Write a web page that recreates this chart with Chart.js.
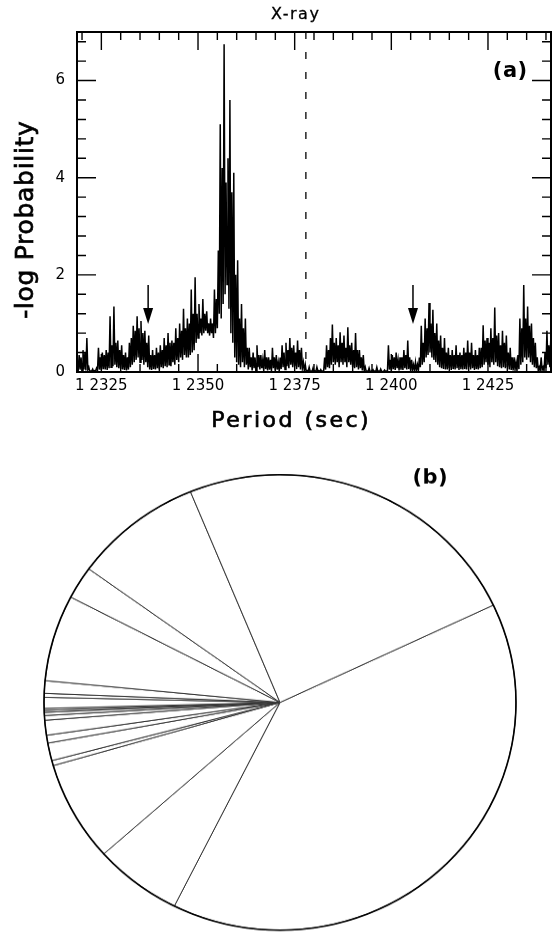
<!DOCTYPE html>
<html><head><meta charset="utf-8">
<script src="https://cdn.jsdelivr.net/npm/chart.js@4.4.1/dist/chart.umd.min.js"></script>
<style>
html,body{margin:0;padding:0;background:#fff;}
body{width:555px;height:932px;position:relative;overflow:hidden;}
#c1{position:absolute;left:0;top:0;}
#pieWrap{position:absolute;left:0;top:444.8px;width:555px;height:507px;transform-origin:0 0;transform:scaleY(0.965);}
#c2{position:absolute;left:0;top:0;}
</style></head><body>
<canvas id="c1" width="555" height="440"></canvas>
<div id="pieWrap"><canvas id="c2" width="555" height="507"></canvas></div>
<script>
// ---------- panel (a) data ----------
const periodStart = 12318.75;   // first sample (sec)
const periodStep = 0.5;         // spacing of the local maxima below (sec)
// local maxima of -log P, one every 0.5 s
const logProbPeaks = [
  0.25, 0.35, 0.3, 0.45, 0.4, 0.7, 0.1, 0.02, 0.06, 0.03,
  0.08, 0.5, 0.3, 0.4, 0.35, 0.45, 0.4, 1.15, 0.55, 1.35,
  0.6, 0.65, 0.45, 0.55, 0.35, 0.4, 0.3, 0.6, 0.7, 0.95,
  0.85, 1.15, 0.9, 1.05, 0.8, 0.85, 0.6, 0.75, 0.35, 0.45,
  0.35, 0.5, 0.4, 0.55, 0.45, 0.7, 0.55, 0.8, 0.6, 0.65,
  0.6, 0.9, 0.7, 1.0, 0.85, 1.3, 0.9, 1.1, 1.0, 1.7,
  1.2, 1.95, 1.2, 1.4, 1.1, 1.5, 1.2, 1.25, 1.0, 1.1,
  1.0, 1.7, 1.5, 2.5, 5.1, 4.2, 6.75, 3.9, 4.4, 5.6,
  3.7, 4.1, 2.0, 2.3, 1.1, 1.4, 0.9, 1.1, 0.5, 0.5,
  0.3, 0.4, 0.3, 0.55, 0.35, 0.35, 0.25, 0.45, 0.3, 0.3,
  0.25, 0.5, 0.3, 0.35, 0.2, 0.3, 0.55, 0.4, 0.6, 0.45,
  0.7, 0.5, 0.55, 0.4, 0.65, 0.45, 0.5, 0.2, 0.15, 0.03,
  0.1, 0.02, 0.08, 0.02, 0.1, 0.03, 0.05, 0.02, 0.3, 0.55,
  0.45, 0.7, 0.98, 0.6, 0.7, 0.55, 0.82, 0.6, 0.75, 0.5,
  0.92, 0.55, 0.6, 0.45, 0.8, 0.45, 0.45, 0.3, 0.35, 0.1,
  0.02, 0.08, 0.01, 0.05, 0.02, 0.1, 0.02, 0.06, 0.01, 0.04,
  0.02, 0.55, 0.25, 0.35, 0.3, 0.4, 0.25, 0.3, 0.3, 0.45,
  0.35, 0.65, 0.3, 0.25, 0.15, 0.2, 0.15, 0.3, 0.95, 0.6,
  1.1, 0.9, 1.42, 1.0, 1.28, 0.8, 1.0, 0.65, 0.75, 0.5,
  0.7, 0.4, 0.5, 0.35, 0.45, 0.35, 0.55, 0.35, 0.4, 0.35,
  0.5, 0.4, 0.65, 0.4, 0.6, 0.35, 0.45, 0.35, 0.5, 0.5,
  0.96, 0.65, 0.7, 0.6, 0.9, 0.7, 1.33, 0.75, 0.8, 0.55,
  0.85, 0.6, 0.75, 0.4, 0.5, 0.3, 0.3, 0.2, 0.35, 1.1,
  0.9, 1.79, 1.1, 1.35, 0.95, 1.0, 0.7, 0.6, 0.3, 0.1,
  0.3, 0.1, 0.4, 0.85, 0.55, 0.7, 0.5
];
// local minima between successive maxima (0.25 s after each maximum)
const logProbTroughs = [
  0.02, 0.05, 0.02, 0.05, 0.03, 0.05, 0.01, 0.02, 0.01, 0.02,
  0.03, 0.05, 0.04, 0.06, 0.05, 0.04, 0.08, 0.1, 0.12, 0.15,
  0.1, 0.08, 0.06, 0.05, 0.04, 0.03, 0.05, 0.1, 0.15, 0.2,
  0.25, 0.3, 0.2, 0.25, 0.15, 0.2, 0.1, 0.05, 0.04, 0.06,
  0.05, 0.08, 0.05, 0.1, 0.08, 0.12, 0.1, 0.15, 0.12, 0.2,
  0.15, 0.25, 0.2, 0.3, 0.25, 0.35, 0.3, 0.3, 0.35, 0.4,
  0.45, 0.6, 0.7, 0.8, 0.75, 0.8, 0.85, 0.8, 0.75, 0.8,
  0.7, 0.8, 0.9, 1.2, 1.1, 1.4, 1.6, 1.8, 1.3, 0.8,
  0.6, 0.3, 0.2, 0.15, 0.1, 0.2, 0.1, 0.15, 0.05, 0.1,
  0.03, 0.08, 0.02, 0.1, 0.05, 0.08, 0.02, 0.06, 0.03, 0.05,
  0.02, 0.08, 0.03, 0.05, 0.02, 0.06, 0.1, 0.05, 0.12, 0.08,
  0.15, 0.1, 0.12, 0.06, 0.1, 0.05, 0.08, 0.02, 0.01, 0.01,
  0.01, 0.01, 0.01, 0.01, 0.02, 0.01, 0.01, 0.02, 0.05, 0.1,
  0.08, 0.15, 0.2, 0.15, 0.2, 0.1, 0.2, 0.15, 0.2, 0.1,
  0.2, 0.15, 0.1, 0.08, 0.1, 0.05, 0.08, 0.03, 0.03, 0.01,
  0.01, 0.01, 0.01, 0.01, 0.01, 0.01, 0.01, 0.01, 0.01, 0.01,
  0.02, 0.05, 0.03, 0.06, 0.04, 0.08, 0.03, 0.05, 0.04, 0.08,
  0.05, 0.06, 0.03, 0.05, 0.02, 0.04, 0.02, 0.1, 0.15, 0.2,
  0.3, 0.35, 0.4, 0.3, 0.25, 0.2, 0.15, 0.1, 0.08, 0.06,
  0.05, 0.05, 0.08, 0.04, 0.06, 0.05, 0.08, 0.04, 0.06, 0.05,
  0.06, 0.05, 0.1, 0.05, 0.08, 0.04, 0.06, 0.05, 0.08, 0.1,
  0.15, 0.2, 0.15, 0.1, 0.2, 0.15, 0.2, 0.12, 0.1, 0.08,
  0.1, 0.08, 0.1, 0.05, 0.04, 0.03, 0.05, 0.02, 0.06, 0.15,
  0.2, 0.3, 0.25, 0.3, 0.2, 0.15, 0.1, 0.08, 0.03, 0.02,
  0.04, 0.02, 0.08, 0.15, 0.1, 0.12
];
const xMin = 12318.7, xMax = 12441.3;
const yMin = 0, yMax = 7;
const xMajorTicks = [12325, 12350, 12375, 12400, 12425];
const xTickLabels = ['1 2325', '1 2350', '1 2375', '1 2400', '1 2425'];
const xMinorTicks = [12320, 12325, 12330, 12335, 12340, 12345, 12350, 12355, 12360, 12365,
  12370, 12375, 12380, 12385, 12390, 12395, 12400, 12405, 12410, 12415, 12420, 12425,
  12430, 12435, 12440];
const yMajorTicks = [0, 2, 4, 6];
const yTickLabels = ['0', '2', '4', '6'];
const yMinorTicks = [0, 0.4, 0.8, 1.2, 1.6, 2, 2.4, 2.8, 3.2, 3.6, 4, 4.4, 4.8, 5.2, 5.6, 6, 6.4, 6.8];
const dashPeriod = 12377.9;
const arrowPeriods = [12337.1, 12405.6];
const arrowTopValue = 1.79;
const arrowTipValue = 0.99;

// ---------- panel (b) data (slice sizes in degrees) ----------
const pieValues = [141.9, 21.7, 25.6, 1.3, 4.5, 2.0, 3.8, 1.2, 0.8, 0.5, 0.5, 2.8, 1.0, 3.2, 22.05, 8.35, 31.8, 87.0];
const pieRotation = 64.7;

const FONT = '"DejaVu Sans", sans-serif';

// maxima and minima alternate along the period axis
const seriesPoints = [];
logProbPeaks.forEach((v, i) => {
  const p = periodStart + i * periodStep;
  seriesPoints.push({x: p, y: v});
  if (i < logProbTroughs.length) seriesPoints.push({x: p + periodStep / 2, y: logProbTroughs[i]});
});

function drawText(ctx, txt, x, y, font, spacing, rot, stroke) {
  ctx.save();
  ctx.translate(x, y);
  if (rot) ctx.rotate(rot);
  ctx.font = font;
  ctx.letterSpacing = spacing + 'px';
  ctx.textAlign = 'center';
  ctx.textBaseline = 'middle';
  ctx.fillStyle = '#000';
  ctx.fillText(txt, spacing / 2, 0);
  if (stroke) {
    ctx.strokeStyle = '#000';
    ctx.lineWidth = stroke;
    ctx.strokeText(txt, spacing / 2, 0);
  }
  ctx.restore();
}

const topDecor = {
  id: 'topDecor',
  afterDatasetsDraw(chart) {
    const {ctx, chartArea: a, scales: {x, y}} = chart;
    ctx.save();
    ctx.strokeStyle = '#000';
    ctx.fillStyle = '#000';
    ctx.lineWidth = 1.4;
    xMinorTicks.forEach(v => {
      const px = x.getPixelForValue(v);
      const len = xMajorTicks.includes(v) ? 18 : 8;
      ctx.beginPath();
      ctx.moveTo(px, a.top); ctx.lineTo(px, a.top + len);
      ctx.moveTo(px, a.bottom); ctx.lineTo(px, a.bottom - len);
      ctx.stroke();
    });
    yMinorTicks.forEach(v => {
      const py = y.getPixelForValue(v);
      const len = yMajorTicks.includes(v) ? 19 : 9;
      ctx.beginPath();
      ctx.moveTo(a.left, py); ctx.lineTo(a.left + len, py);
      ctx.moveTo(a.right, py); ctx.lineTo(a.right - len, py);
      ctx.stroke();
    });
    ctx.lineWidth = 2;
    ctx.strokeRect(a.left, a.top, a.right - a.left, a.bottom - a.top);
    // dashed line
    const dx = x.getPixelForValue(dashPeriod);
    ctx.lineWidth = 1.3;
    ctx.setLineDash([7, 13]);
    ctx.beginPath(); ctx.moveTo(dx, a.top); ctx.lineTo(dx, a.bottom); ctx.stroke();
    ctx.setLineDash([]);
    // arrows
    arrowPeriods.forEach(p => {
      const px = x.getPixelForValue(p);
      const yt = y.getPixelForValue(arrowTopValue);
      const yp = y.getPixelForValue(arrowTipValue);
      ctx.lineWidth = 1.5;
      ctx.beginPath(); ctx.moveTo(px, yt); ctx.lineTo(px, yp - 10); ctx.stroke();
      ctx.beginPath();
      ctx.moveTo(px - 5, yp - 16); ctx.lineTo(px + 5, yp - 16); ctx.lineTo(px, yp);
      ctx.closePath(); ctx.fill();
    });
    ctx.restore();
    drawText(ctx, 'X-ray', 295, 15, '16px ' + FONT, 1.5, 0, 0.3);
    drawText(ctx, '(a)', 510, 72, 'bold 21px ' + FONT, 0.5);
    drawText(ctx, '-log Probability', 26, 220, '25px ' + FONT, 0.7, -Math.PI / 2, 0.7);
    drawText(ctx, 'Period (sec)', 290, 421, '22px ' + FONT, 2.5, 0, 0.7);
  }
};

new Chart(document.getElementById('c1'), {
  type: 'line',
  data: {
    datasets: [{
      data: seriesPoints,
      borderColor: '#000',
      borderWidth: 1.5,
      pointRadius: 0,
      tension: 0,
      fill: false
    }]
  },
  options: {
    responsive: false,
    animation: false,
    events: [],
    layout: {padding: {top: 32, right: 4, left: 0, bottom: 0}},
    plugins: {legend: {display: false}, tooltip: {enabled: false}, title: {display: false}},
    scales: {
      x: {
        type: 'linear', min: xMin, max: xMax,
        afterBuildTicks: s => { s.ticks = xMajorTicks.map(v => ({value: v})); },
        afterFit: s => { s.height = 68; },
        ticks: {
          autoSkip: false, maxRotation: 0, padding: 5, color: '#000',
          font: {family: FONT, size: 15},
          callback: v => xTickLabels[xMajorTicks.indexOf(v)]
        },
        grid: {display: false, drawTicks: false},
        border: {display: false}
      },
      y: {
        min: yMin, max: yMax,
        afterBuildTicks: s => { s.ticks = yMajorTicks.map(v => ({value: v})); },
        afterFit: s => { s.width = 77; },
        ticks: {
          padding: 12, color: '#000',
          font: {family: FONT, size: 15},
          callback: v => yTickLabels[yMajorTicks.indexOf(v)]
        },
        grid: {display: false, drawTicks: false},
        border: {display: false}
      }
    }
  },
  plugins: [topDecor]
});

const pieDecor = {
  id: 'pieDecor',
  afterDatasetsDraw(chart) {
    const arc = chart.getDatasetMeta(0).data[0];
    const ctx = chart.ctx;
    ctx.save();
    ctx.strokeStyle = '#000';
    ctx.lineWidth = 1.6;
    ctx.beginPath();
    ctx.arc(arc.x, arc.y, arc.outerRadius, 0, Math.PI * 2);
    ctx.stroke();
    ctx.restore();
    drawText(ctx, '(b)', 430, 34.4, 'bold 21px ' + FONT, 0.5);
  }
};

new Chart(document.getElementById('c2'), {
  type: 'pie',
  data: {
    labels: pieValues.map((v, i) => 'slice ' + (i + 1)),
    datasets: [{
      data: pieValues,
      backgroundColor: '#fff',
      borderColor: '#333',
      borderWidth: 1
    }]
  },
  options: {
    responsive: false,
    animation: false,
    events: [],
    rotation: pieRotation,
    layout: {padding: {left: 43.5, right: 38.5, top: 30, bottom: 3.5}},
    plugins: {legend: {display: false}, tooltip: {enabled: false}}
  },
  plugins: [pieDecor]
});
</script></body></html>
